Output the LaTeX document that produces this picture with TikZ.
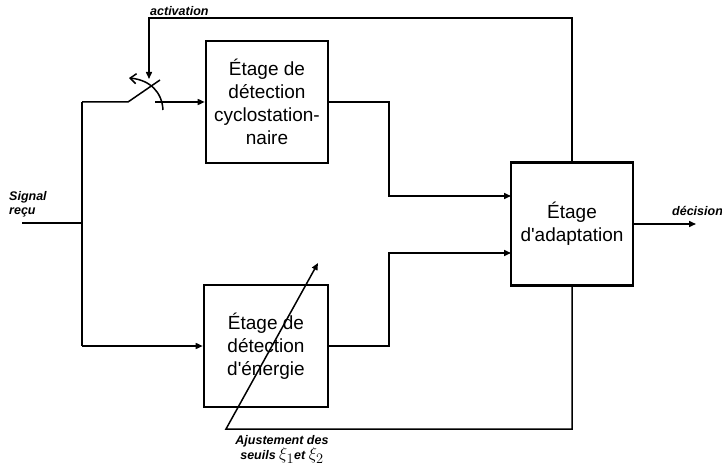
\documentclass[tikz,border=0pt]{standalone}
\usepackage{fontspec}
\setmainfont{Liberation Sans}
\usetikzlibrary{arrows.meta}
\begin{document}
\begin{tikzpicture}[x=1pt,y=-1pt,
  blockbox/.style={draw,line width=2.6pt,minimum width=122pt,minimum height=122pt,inner sep=0pt,align=center,font=\fontsize{19}{23}\selectfont},
  conn/.style={line width=1.5pt},
  arr/.style={conn,-{Triangle[length=7pt,width=6pt]}},
  lbl/.style={font=\fontsize{12.5}{14}\selectfont\bfseries\itshape,inner sep=0pt}]
\useasboundingbox (0,0) rectangle (722,473);
\node[blockbox] (cyc) at (267,102) {Étage de\\détection\\cyclostation-\\naire};
\node[blockbox,minimum width=124pt] (en) at (266,346) {Étage de\\détection\\d\textquotesingle énergie};
\node[blockbox,minimum height=123pt] (ad) at (572,224) {Étage\\d\textquotesingle adaptation};
% coordinates
\coordinate (sin) at (22,223);
\coordinate (jn) at (82,223);
\coordinate (jt) at (82,102);
\coordinate (jb) at (82,346);
\coordinate (swA) at (128,102);
\coordinate (swB) at (160,80);
\coordinate (swC) at (155,102);
\coordinate (arcS) at (163,110);
\coordinate (arcE) at (129,78);
\coordinate (actT) at (149,18);
\coordinate (actR) at (572,18);
\coordinate (actE) at (149,79);
\coordinate (c1) at (389,102);
\coordinate (c2) at (389,196);
\coordinate (c3) at (511,196);
\coordinate (e1) at (389,346);
\coordinate (e2) at (389,253);
\coordinate (e3) at (511,253);
\coordinate (dout) at (696,224);
\coordinate (bR) at (572,429);
\coordinate (bL) at (226,429);
\coordinate (bT) at (318,263);
% connectors
\draw[conn] (sin) -- (jn);
\draw[conn] (jt) -- (jb);
\draw[conn] (jt) -- (swA) -- (swB);
\draw[arr] (swC) -- (cyc.west |- swC);
\draw[arr] (jb) -- (en.west |- jb);
\draw[conn,-{Straight Barb[length=6pt,width=10pt]}] (arcS) .. controls (162,92) and (150,80) .. (arcE);
\draw[arr] (ad.north) -- (actR) -- (actT) -- (actE);
\draw[arr] (cyc.east |- c1) -- (c1) -- (c2) -- (c3);
\draw[arr] (en.east |- e1) -- (e1) -- (e2) -- (e3);
\draw[arr] (ad.east |- dout) -- (dout);
\draw[arr] (ad.south) -- (bR) -- (bL) -- (bT);
% labels
\node[lbl,anchor=base west] (lact) at (150,15.5) {activation};
\node[lbl,anchor=north west,align=left] (lsig) at (9,191) {Signal\\reçu};
\node[lbl,anchor=base west] (ldec) at (672,215) {décision};
\node[lbl,anchor=north,align=center] (laj) at (282,435) {Ajustement des\\seuils {\mdseries\upshape\fontsize{19}{14}\selectfont$\xi_1$}et {\mdseries\upshape\fontsize{19}{14}\selectfont$\xi_2$}};
\end{tikzpicture}
\end{document}
